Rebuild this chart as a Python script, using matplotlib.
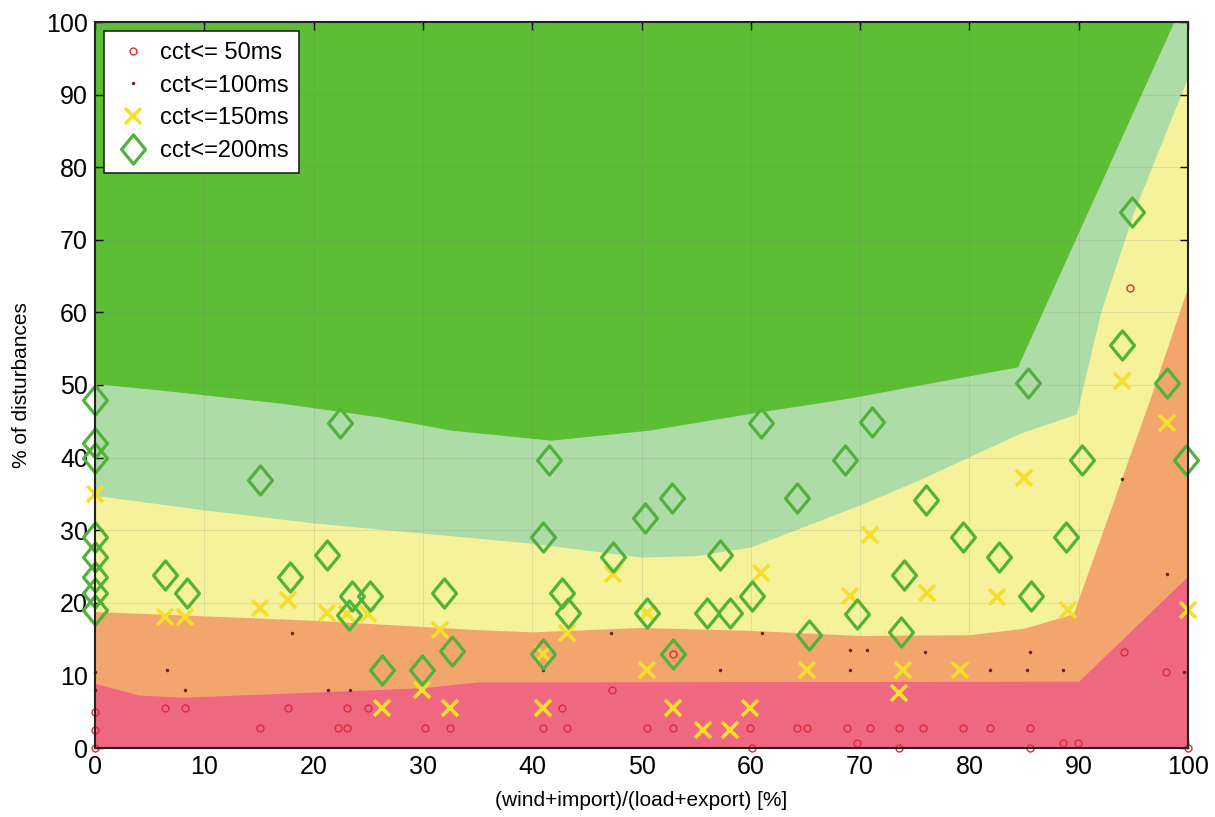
import numpy as np
import matplotlib
matplotlib.use("Agg")
import matplotlib.pyplot as plt
from matplotlib.path import Path

plt.rcParams['font.family'] = ['Liberation Sans', 'DejaVu Sans']

# ---- region boundaries (upper edge of each band) ----
red_x = [0, 4, 8, 20, 30, 35, 90, 100]
red_y = [8.9, 7.3, 7.0, 7.7, 8.3, 9.1, 9.2, 23.7]

orange_x = [0, 10, 20, 35, 40, 50, 60, 70, 80, 85, 89.5, 96.5, 100]
orange_y = [18.8, 18.2, 17.6, 16.3, 16.0, 16.6, 16.2, 15.5, 15.6, 16.5, 18.5, 48, 63.6]

yellow_x = [0, 10, 20, 30, 40, 50, 55, 60, 66.4, 70, 75.5, 84.7, 89.8, 92, 95, 100]
yellow_y = [34.8, 32.8, 31, 29.6, 28.2, 26.3, 26.5, 27.7, 31.4, 33.5, 37, 43.4, 46, 60, 73.7, 92.5]

lgreen_x = [0, 6, 17, 26, 32.5, 41.7, 50.8, 60, 69, 84.4, 98.7, 100]
lgreen_y = [50.2, 49.3, 47.5, 45.6, 43.8, 42.4, 43.8, 46.1, 48.2, 52.5, 100, 100]

# ---- scatter series ----
c50_x = [0, 0, 0, 6.4, 8.2, 15.1, 17.7, 22.2, 23.1, 23.1, 25, 30.2, 32.5, 41, 42.7, 43.2,
         47.3, 50.5, 52.9, 52.9, 59.9, 60.1, 64.2, 65.1, 68.8, 70.9, 69.7, 73.6, 75.8, 73.6,
         79.4, 81.9, 85.5, 85.5, 88.6, 89.9, 94.1, 94.7, 98, 100]
c50_y = [0, 2.5, 5, 5.5, 5.5, 2.75, 5.5, 2.75, 2.75, 5.5, 5.5, 2.75, 2.75, 2.75, 5.5, 2.75,
         8, 2.75, 2.75, 13, 2.75, 0, 2.75, 2.75, 2.75, 2.75, 0.7, 2.75, 2.75, 0,
         2.75, 2.75, 2.75, 0, 0.7, 0.7, 13.2, 63.4, 10.5, 0]

c100_x = [0, 0, 6.6, 8.2, 18, 21.3, 23.3, 41, 47.2, 57.2, 61, 69.1, 70.6, 69.1, 75.9,
          81.9, 85.3, 85.5, 88.6, 99.6, 98.1, 94]
c100_y = [10.5, 8, 10.7, 8, 15.8, 8, 8, 10.7, 15.8, 10.7, 15.8, 13.5, 13.5, 10.7, 13.2,
          10.7, 10.7, 13.2, 10.7, 10.5, 24, 37]

c150_x = [26.3, 29.9, 32.5, 41, 52.9, 55.6, 58.1, 59.9, 50.5, 65.1, 73.9, 73.6, 79.1, 98.1,
          100, 41, 0, 6.4, 8.2, 15.1, 17.7, 21.2, 23.1, 25, 31.6, 43.2, 47.4, 60.9, 69.1,
          70.9, 76.1, 82.5, 85, 89, 94, 50.5]
c150_y = [5.5, 8, 5.5, 5.5, 5.5, 2.5, 2.5, 5.5, 10.7, 10.7, 10.7, 7.6, 10.7, 44.8,
          19, 13, 35, 18, 18, 19.3, 20.4, 18.6, 18.5, 18.5, 16.2, 15.8, 24, 24.1, 21,
          29.3, 21.3, 20.8, 37.2, 19, 50.5, 18.6]

c200_x = [0, 0, 0, 0, 0, 0, 0, 0, 6.4, 8.4, 15.1, 17.8, 21.2, 22.4, 23.5, 23.2, 25.2, 26.3,
          29.9, 31.9, 32.7, 41.0, 41.0, 41.5, 42.7, 43.3, 47.4, 50.3, 50.5, 52.8, 52.9, 56.0,
          57.2, 58.1, 60.1, 60.9, 64.2, 65.3, 68.6, 69.7, 71.1, 73.7, 74.0, 76.0, 79.4, 82.7,
          85.4, 85.6, 88.8, 90.3, 94.0, 94.9, 98.1, 99.8]
c200_y = [48, 42, 40, 29, 26.3, 23.6, 21.3, 19, 23.8, 21.3, 36.9, 23.6, 26.6, 44.7, 21, 18.3,
          21, 10.7, 10.7, 21.3, 13.3, 29, 13, 39.7, 21.3, 18.6, 26.3, 31.7, 18.6, 34.4, 13,
          18.6, 26.6, 18.6, 21, 44.8, 34.4, 15.5, 39.7, 18.5, 44.9, 16, 23.8, 34.2, 29, 26.3,
          50.3, 21, 29, 39.7, 55.5, 73.8, 50.3, 39.7]

labels = ['cct<= 50ms', 'cct<=100ms', 'cct<=150ms', 'cct<=200ms']
ticks = list(range(0, 101, 10))

# ---- figure ----
W, H = 1215, 817
fig = plt.figure(figsize=(W / 100, H / 100), dpi=100)
ax = fig.add_axes([95 / W, 1 - 748 / H, (1188 - 95) / W, (748 - 22) / H])

ax.set_facecolor('#5BBE34')
ax.fill_between(lgreen_x, lgreen_y, 0, color='#AEDCA6', lw=0, zorder=1)
ax.fill_between(yellow_x, yellow_y, 0, color='#F6F29C', lw=0, zorder=2)
ax.fill_between(orange_x, orange_y, 0, color='#F3A56E', lw=0, zorder=3)
ax.fill_between(red_x, red_y, 0, color='#EF6881', lw=0, zorder=4)

diamond = Path([(0, 1), (0.82, 0), (0, -1), (-0.82, 0), (0, 1)],
               [Path.MOVETO, Path.LINETO, Path.LINETO, Path.LINETO, Path.CLOSEPOLY])

ax.plot(c50_x, c50_y, 'o', ms=5, mfc='none', mec='#E0283E', mew=1.0,
        label=labels[0], zorder=6, clip_on=False)
ax.plot(c100_x, c100_y, 'o', ms=2.5, color='#6A2035', mew=0,
        label=labels[1], zorder=6, clip_on=False)
ax.plot(c150_x, c150_y, 'x', ms=11, color='#F5DE2C', mew=2.6,
        label=labels[2], zorder=7, clip_on=False)
ax.plot(c200_x, c200_y, ls='none', marker=diamond, ms=21, mfc='none', mec='#50B23A',
        mew=2.3, label=labels[3], zorder=8, clip_on=False)

ax.set_xlim(0, 100)
ax.set_ylim(0, 100)
ax.set_xticks(ticks)
ax.set_yticks(ticks)
ax.tick_params(direction='in', length=6, width=1, labelsize=18, pad=5,
               top=True, right=True)
ax.grid(True, color='#808080', alpha=0.18, lw=0.8, zorder=5)
ax.set_axisbelow(False)
for sp in ax.spines.values():
    sp.set_linewidth(1.5)
    sp.set_color('#222222')
    sp.set_zorder(10)

ax.set_xlabel('(wind+import)/(load+export) [%]', fontsize=15, labelpad=9)
ax.set_ylabel('% of disturbances', fontsize=15, labelpad=11)

leg = ax.legend(loc='upper left', fontsize=17, frameon=True, fancybox=False,
                framealpha=1, edgecolor='#222222', borderaxespad=0.4,
                handletextpad=0.4, labelspacing=0.45, borderpad=0.45,
                handlelength=1.5, markerscale=1.0)
leg.get_frame().set_linewidth(1.2)
leg.set_zorder(20)

fig.savefig('out.png', dpi=100)
